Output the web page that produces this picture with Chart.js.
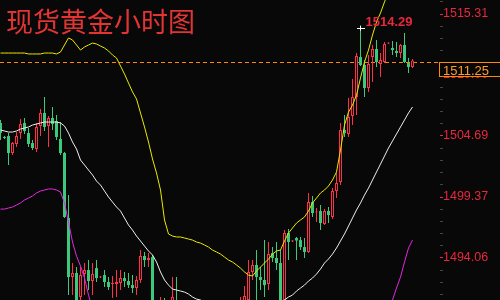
<!DOCTYPE html>
<html>
<head>
<meta charset="utf-8">
<script src="https://cdn.jsdelivr.net/npm/chart.js@4"></script>
<style>
html,body{margin:0;padding:0;background:#080808;}
canvas{display:block;}
</style>
</head>
<body>
<canvas id="chart" width="500" height="300"></canvas>
<script>

const title = "现货黄金小时图";

// hourly candles, oldest first
const opens = [
1505.82,1504.60,1504.68,1503.20,1503.99,1504.94,1505.82,1504.94,1504.07,1503.55,
1505.55,1506.69,1505.55,1506.25,1505.99,1504.42,1503.20,1497.54,1492.40,1492.75,
1490.66,1492.66,1493.01,1492.05,1493.18,1492.36,1492.57,1491.97,1491.79,1491.79,
1491.88,1492.31,1492.05,1491.70,1491.44,1492.14,1494.23,1493.88,1494.14,1489.96,
1489.87,1490.22,1489.96,1489.96,1490.31,1489.5,1488.9,1489.3,1488.7,1488.1,
1488.8,1489.1,1488.6,1489.2,1489.6,1489.0,1489.5,1489.8,1489.4,1490.0,
1489.53,1490.05,1490.40,1492.84,1493.45,1492.40,1492.14,1491.79,1494.49,1494.06,
1493.62,1490.40,1496.23,1495.49,1495.80,1495.62,1495.01,1494.58,1498.93,1498.02,
1498.15,1497.02,1498.15,1497.63,1499.89,1500.68,1505.21,1504.86,1506.43,1508.08,
1511.56,1510.87,1508.86,1511.56,1512.26,1510.95,1511.13,1512.74,1512.35,1512.09,
1511.91,1512.61,1511.04,1510.69];
const highs = [
1506.08,1504.68,1504.94,1504.16,1505.03,1506.16,1506.25,1505.38,1504.33,1505.82,
1507.04,1508.08,1506.43,1507.21,1506.51,1505.90,1503.29,1499.54,1493.62,1493.27,
1493.27,1493.62,1493.88,1493.62,1493.88,1492.49,1493.01,1492.40,1492.49,1493.01,
1493.01,1492.84,1492.75,1492.57,1492.49,1494.75,1494.58,1494.49,1494.32,1490.22,
1490.66,1490.57,1490.31,1492.40,1492.40,1490.1,1489.6,1489.9,1489.2,1489.0,
1489.5,1489.7,1489.4,1490.0,1490.2,1489.8,1490.1,1490.3,1490.2,1490.3,
1490.66,1491.62,1493.88,1493.88,1494.75,1493.27,1495.62,1495.45,1495.01,1495.45,
1494.75,1496.49,1496.58,1495.62,1495.89,1495.89,1495.80,1499.72,1499.46,1498.41,
1498.67,1498.32,1498.50,1500.15,1501.46,1505.82,1506.51,1507.99,1509.65,1511.91,
1514.29,1511.30,1511.74,1512.61,1513.05,1511.91,1512.87,1512.83,1512.96,1512.87,
1512.70,1513.66,1511.48,1511.40];
const lows = [
1504.33,1504.42,1502.16,1503.03,1503.72,1504.42,1504.86,1503.72,1503.46,1503.29,
1504.68,1505.12,1503.72,1505.21,1504.33,1503.03,1497.54,1490.83,1490.83,1489.70,
1490.40,1490.83,1491.27,1490.83,1491.97,1492.31,1491.53,1491.27,1490.57,1490.66,
1491.27,1491.53,1491.44,1491.01,1490.83,1491.88,1493.27,1493.27,1489.35,1488.65,
1489.53,1489.35,1489.09,1489.70,1489.18,1488.6,1488.2,1488.5,1487.8,1487.6,
1488.2,1488.3,1488.0,1488.7,1488.9,1488.4,1489.0,1489.1,1488.9,1489.3,
1489.09,1489.87,1490.22,1492.14,1490.40,1491.27,1490.66,1491.27,1493.71,1493.01,
1489.96,1490.31,1493.88,1495.45,1493.88,1494.75,1494.06,1494.49,1497.63,1497.19,
1496.49,1496.93,1497.10,1497.45,1499.28,1500.41,1504.60,1504.60,1505.64,1506.51,
1510.78,1508.08,1508.52,1509.39,1510.69,1509.82,1511.04,1512.70,1511.74,1511.56,
1511.48,1511.04,1510.17,1510.61];
const closes = [
1504.94,1504.51,1503.20,1504.07,1504.68,1505.73,1505.12,1503.99,1503.64,1505.47,
1506.69,1505.47,1506.25,1505.73,1504.60,1503.20,1497.63,1492.40,1492.75,1490.14,
1492.57,1493.01,1492.05,1492.66,1492.31,1492.44,1491.97,1491.53,1491.88,1491.97,
1492.31,1492.05,1491.70,1491.44,1492.14,1494.23,1493.88,1494.06,1489.53,1489.09,
1490.31,1489.70,1489.53,1490.66,1489.53,1488.9,1489.3,1488.7,1488.1,1488.8,
1489.1,1488.6,1489.2,1489.6,1489.0,1489.5,1489.8,1489.4,1490.0,1489.7,
1490.14,1490.74,1492.84,1493.45,1492.40,1492.14,1491.70,1494.40,1494.06,1493.62,
1490.22,1496.23,1495.45,1495.58,1495.58,1495.01,1494.58,1498.93,1497.98,1498.11,
1497.10,1498.15,1497.80,1499.89,1500.59,1505.21,1504.94,1506.34,1508.08,1511.65,
1510.87,1508.86,1510.95,1512.26,1511.13,1511.30,1512.70,1512.78,1512.17,1511.91,
1512.61,1511.13,1510.69,1511.25];

// bands
const upperBand = [
1511.91,1511.91,1511.91,1511.91,1511.91,1511.91,1511.91,1511.83,1511.83,1511.83,
1511.83,1511.91,1511.91,1511.91,1511.83,1512.00,1512.61,1513.22,1513.05,1512.61,
1512.17,1512.44,1512.61,1512.78,1512.70,1512.52,1512.35,1512.09,1511.74,1511.48,
1510.78,1510.08,1509.30,1508.52,1507.91,1506.69,1505.47,1504.16,1502.68,1501.46,
1499.98,1497.37,1496.15,1495.97,1495.89,1495.89,1495.80,1495.71,1495.62,1495.45,
1495.36,1495.19,1495.01,1494.75,1494.58,1494.40,1494.14,1493.88,1493.71,1493.45,
1493.18,1492.84,1492.57,1492.49,1492.92,1493.27,1493.62,1493.97,1494.40,1494.67,
1494.75,1495.54,1496.23,1496.67,1497.10,1497.37,1497.63,1498.15,1498.85,1499.28,
1499.72,1499.98,1500.33,1500.85,1501.55,1503.46,1505.64,1506.77,1507.38,1508.25,
1509.74,1511.13,1512.17,1513.48,1514.61,1515.40,1516.36,1517.23,1518.10,1518.97,
1519.84,1520.71,1521.50,1522.28];
const midBand = [
1505.21,1505.12,1505.03,1505.03,1505.12,1505.29,1505.38,1505.47,1505.64,1505.73,
1505.82,1505.90,1505.90,1505.90,1505.90,1505.82,1505.55,1504.94,1504.16,1503.55,
1502.59,1502.16,1501.72,1501.29,1500.76,1500.41,1499.89,1499.37,1498.93,1498.50,
1498.15,1497.54,1496.93,1496.49,1495.97,1495.54,1495.10,1494.67,1494.32,1493.71,
1492.84,1492.14,1491.70,1491.35,1491.27,1491.18,1491.09,1490.92,1490.66,1490.48,
1490.40,1490.22,1490.05,1489.87,1489.79,1489.61,1489.53,1489.44,1489.35,1489.35,
1489.26,1489.26,1489.35,1489.44,1489.53,1489.61,1489.79,1489.87,1489.96,1490.14,
1490.22,1490.40,1490.66,1490.83,1491.18,1491.44,1491.70,1492.05,1492.31,1492.66,
1493.10,1493.62,1493.97,1494.40,1494.93,1495.54,1496.15,1496.84,1497.54,1498.24,
1498.85,1499.54,1500.15,1500.85,1501.55,1502.24,1502.94,1503.64,1504.25,1504.86,
1505.47,1506.08,1506.69,1507.21];
const lowerBand = [
1498.32,1498.32,1498.41,1498.50,1498.67,1498.85,1499.11,1499.28,1499.46,1499.72,
1499.89,1499.98,1500.07,1500.07,1499.98,1499.80,1498.85,1497.19,1495.45,1494.23,
1493.36,1492.31,1490.83,1489.6,1489.1,1488.7,1488.3,1488.0,1487.7,1487.5,
1487.3,1487.2,1487.1,1487.0,1486.9,1486.9,1486.8,1486.8,1486.7,1486.6,
1486.4,1486.2,1486.1,1486.0,1486.0,1486.0,1486.1,1486.1,1486.2,1486.2,
1486.3,1486.4,1486.5,1486.5,1486.6,1486.7,1486.8,1486.8,1486.9,1486.9,
1487.0,1487.0,1486.9,1486.8,1486.8,1486.7,1486.7,1486.6,1486.6,1486.5,
1486.4,1486.3,1486.2,1486.1,1486.0,1485.9,1485.9,1485.8,1485.8,1485.8,
1485.9,1486.0,1486.1,1486.3,1486.5,1486.8,1487.1,1487.4,1487.7,1488.0,
1488.3,1488.6,1488.9,1489.2,1489.4,1489.6,1489.8,1490.0,1490.40,1491.44,
1492.40,1493.71,1494.93,1495.62];

const tickValues = [1494.06, 1499.37, 1504.69, 1510.00, 1515.31];
const lastPrice = 1511.25;
const yMin = 1490.40, yMax = 1516.53;

const BG = "#080808";
const RED = "#ff3048";
const GREEN = "#3cc97c";
const LABEL_RED = "#e8283c";
const ORANGE = "#ff8800";

Chart.defaults.font.family = "'Liberation Sans', Arial, sans-serif";

let up = closes.map((c,i)=> c >= opens[i]);

// y ticks: majors with labels, 4 minor dots between
let yTicks = [];
let step = (tickValues[1]-tickValues[0])/5;
for(let k=-5;k<=30;k++){
  let v = tickValues[0] + k*step;
  if(v < yMin || v > yMax) continue;
  let big = k % 5 == 0;
  yTicks.push({value: big ? tickValues[k/5] : v, big: big});
}

const overlay = {
  id: "overlay",
  beforeDraw(chart){
    let ctx = chart.ctx;
    ctx.save();
    ctx.fillStyle = BG;
    ctx.fillRect(0,0,chart.width,chart.height);
    ctx.restore();
  },
  beforeDatasetsDraw(chart){
    let ctx = chart.ctx;
    let y = Math.round(chart.scales.y.getPixelForValue(lastPrice)) + 1.5;
    ctx.save();
    ctx.strokeStyle = ORANGE;
    ctx.lineWidth = 1;
    ctx.setLineDash([4,3]);
    ctx.beginPath();
    ctx.moveTo(0,y);
    ctx.lineTo(chart.chartArea.right,y);
    ctx.stroke();
    ctx.restore();
  },
  afterDraw(chart){
    let ctx = chart.ctx;
    let xs = chart.scales.x, ys = chart.scales.y;
    ctx.save();

    // last price box
    let y = Math.round(ys.getPixelForValue(lastPrice)) + 1.5;
    ctx.fillStyle = BG;
    ctx.fillRect(439, y, 70, 14);
    ctx.strokeStyle = ORANGE;
    ctx.lineWidth = 1;
    ctx.strokeRect(439.5, y, 70, 14);
    ctx.fillStyle = "#ff9a2e";
    ctx.font = "13px 'Liberation Sans'";
    ctx.textBaseline = "alphabetic";
    ctx.textAlign = "left";
    ctx.fillText(lastPrice.toFixed(2), 443, y + 12);

    // highest high marker
    let idx = highs.indexOf(Math.max(...highs));
    let hx = Math.floor(xs.getPixelForValue(idx)) + 0.5;
    let hy = ys.getPixelForValue(highs[idx]);
    ctx.strokeStyle = "#ffffff";
    ctx.beginPath();
    ctx.moveTo(hx-3.5, Math.round(hy+2)+0.5);
    ctx.lineTo(hx+4.5, Math.round(hy+2)+0.5);
    ctx.moveTo(hx, hy);
    ctx.lineTo(hx, hy+5);
    ctx.stroke();
    ctx.fillStyle = LABEL_RED;
    ctx.font = "bold 13px 'Liberation Sans'";
    ctx.fillText(highs[idx].toFixed(2), hx + 5, hy + 0.5);

    // title
    ctx.fillStyle = "#e33434";
    ctx.font = "27px 'Noto Sans CJK SC'";
    ctx.fillText(title, 6, 32);
    ctx.restore();
  }
};

new Chart(document.getElementById("chart"), {
  type: "bar",
  data: {
    datasets: [
      {
        type: "line",
        data: upperBand.map((v,i)=>({x:i,y:v})),
        borderColor: "#e8e800",
        borderWidth: 1,
        pointRadius: 0,
        order: 0
      },
      {
        type: "line",
        data: midBand.map((v,i)=>({x:i,y:v})),
        borderColor: "#eeeeee",
        borderWidth: 1,
        pointRadius: 0,
        order: 0
      },
      {
        type: "line",
        data: lowerBand.map((v,i)=>({x:i,y:v})),
        borderColor: "#e028e0",
        borderWidth: 1,
        pointRadius: 0,
        order: 0
      },
      {
        // bodies
        data: opens.map((o,i)=>({x:i,y:[o,closes[i]]})),
        backgroundColor: c => up[c.dataIndex] ? BG : GREEN,
        borderColor: c => up[c.dataIndex] ? RED : GREEN,
        borderWidth: c => up[c.dataIndex] ? 1 : 0,
        borderSkipped: false,
        barThickness: 3,
        minBarLength: 1,
        grouped: false,
        inflateAmount: 0,
        order: 1
      },
      {
        // wicks
        data: lows.map((l,i)=>({x:i,y:[l,highs[i]]})),
        backgroundColor: c => up[c.dataIndex] ? RED : GREEN,
        borderWidth: 0,
        barThickness: 1,
        grouped: false,
        inflateAmount: 0,
        order: 2
      }
    ]
  },
  options: {
    responsive: false,
    animation: false,
    devicePixelRatio: 1,
    layout: {padding: 0},
    plugins: {legend: {display:false}, tooltip: {enabled:false}},
    scales: {
      x: {
        type: "linear",
        min: -0.125,
        max: 109.875,
        offset: false,
        display: false
      },
      y: {
        position: "right",
        min: yMin,
        max: yMax,
        afterBuildTicks: s => { s.ticks = yTicks.map(t=>({value:t.value, big:t.big})); },
        afterFit: s => { s.width = 60; s.paddingTop = 0; s.paddingBottom = 0; },
        border: {display:false},
        grid: {
          drawOnChartArea: false,
          tickLength: 3,
          tickColor: c => (c.tick && c.tick.big) ? LABEL_RED : "#444444"
        },
        ticks: {
          autoSkip: false,
          padding: 0,
          color: LABEL_RED,
          font: {size: 12.5},
          callback: (v,i,t) => t[i].big ? v.toFixed(2) : ""
        }
      }
    }
  },
  plugins: [overlay]
});
</script>
</body>
</html>
